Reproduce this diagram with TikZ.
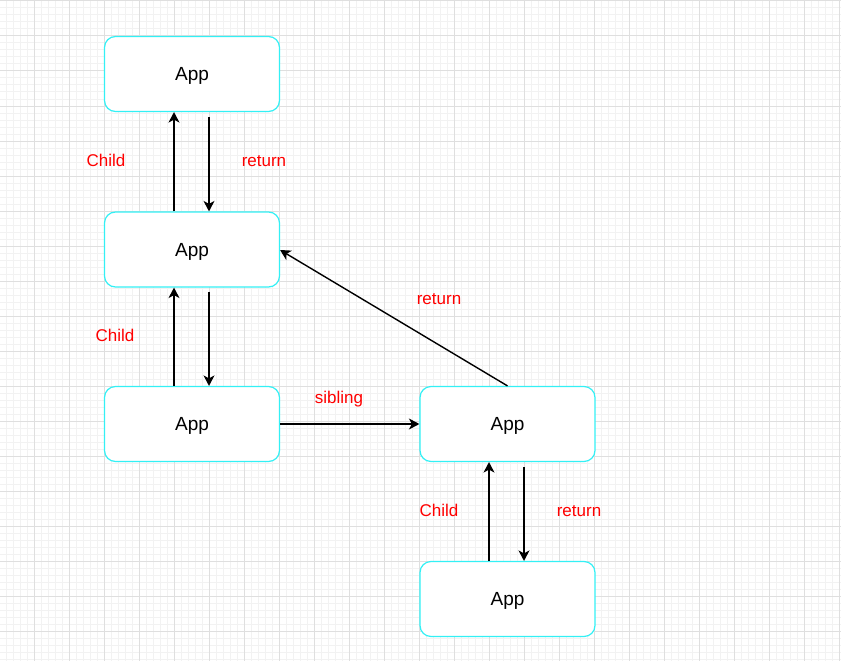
\documentclass[tikz,border=0pt]{standalone}
\usepackage{fontspec}
\setmainfont{Liberation Sans}
\usetikzlibrary{arrows.meta}
\definecolor{gridminor}{HTML}{F2F2F2}
\definecolor{gridmajor}{HTML}{DFDFDF}
\definecolor{boxcyan}{HTML}{33F0F5}
\definecolor{labred}{HTML}{FF0000}
\begin{document}
\begin{tikzpicture}[x=1pt,y=-1pt,
  appbox/.style={draw=boxcyan,line width=1.2pt,fill=white,rounded corners=11pt,minimum width=175pt,minimum height=75pt,inner sep=0pt,text height=13.6pt,text depth=0pt,font=\fontsize{19}{22}\selectfont},
  conn/.style={draw=black,line width=1.4pt,-{Stealth[length=10.5pt,width=11pt,inset=3pt]}},
  lab/.style={text=labred,font=\fontsize{17}{20}\selectfont,inner sep=0pt,text height=12.2pt,text depth=0pt}]
\useasboundingbox (0,0) rectangle (841,661);
\fill[white] (0,0) rectangle (841,661);
% grid
\foreach \k in {0,...,120}{
  \pgfmathsetmacro{\xx}{-0.5+7*\k}
  \draw[gridminor,line width=1pt] (\xx,0) -- (\xx,661);
}
\foreach \k in {0,...,95}{
  \pgfmathsetmacro{\yy}{1+7*\k}
  \draw[gridminor,line width=1pt] (0,\yy) -- (841,\yy);
}
\foreach \k in {0,...,24}{
  \pgfmathsetmacro{\xx}{-0.5+35*\k}
  \draw[gridmajor,line width=1pt] (\xx,0) -- (\xx,661);
}
\foreach \k in {0,...,19}{
  \pgfmathsetmacro{\yy}{1+35*\k}
  \draw[gridmajor,line width=1pt] (0,\yy) -- (841,\yy);
}
% boxes
\node[appbox] (a1) at (192,74) {App};
\node[appbox] (a2) at (192,249.5) {App};
\node[appbox] (a3) at (192,424) {App};
\node[appbox] (a4) at (507.5,424) {App};
\node[appbox] (a5) at (507.5,599) {App};
% connectors
\draw[conn] ([xshift=-18pt]a2.north) -- ([xshift=-18pt]a1.south);
\draw[conn] ([xshift=17pt,yshift=-5pt]a1.south) -- ([xshift=17pt]a2.north);
\draw[conn] ([xshift=-18pt]a3.north) -- ([xshift=-18pt]a2.south);
\draw[conn] ([xshift=17pt,yshift=-4pt]a2.south) -- ([xshift=17pt]a3.north);
\draw[conn] (a3.east) -- (a4.west);
\draw[conn] (a4.north) -- ([yshift=-0.5pt]a2.east);
\draw[conn] ([xshift=-18.5pt]a5.north) -- ([xshift=-18.5pt]a4.south);
\draw[conn] ([xshift=16.5pt,yshift=-5pt]a4.south) -- ([xshift=16.5pt]a5.north);
% labels
\node[lab] (l1) at (106,160) {Child};
\node[lab] (l2) at (264,160) {return};
\node[lab] (l3) at (115,335) {Child};
\node[lab] (l4) at (439,298) {return};
\node[lab] (l5) at (339,397) {sibling};
\node[lab] (l6) at (439,510) {Child};
\node[lab] (l7) at (579,510) {return};
\end{tikzpicture}
\end{document}
